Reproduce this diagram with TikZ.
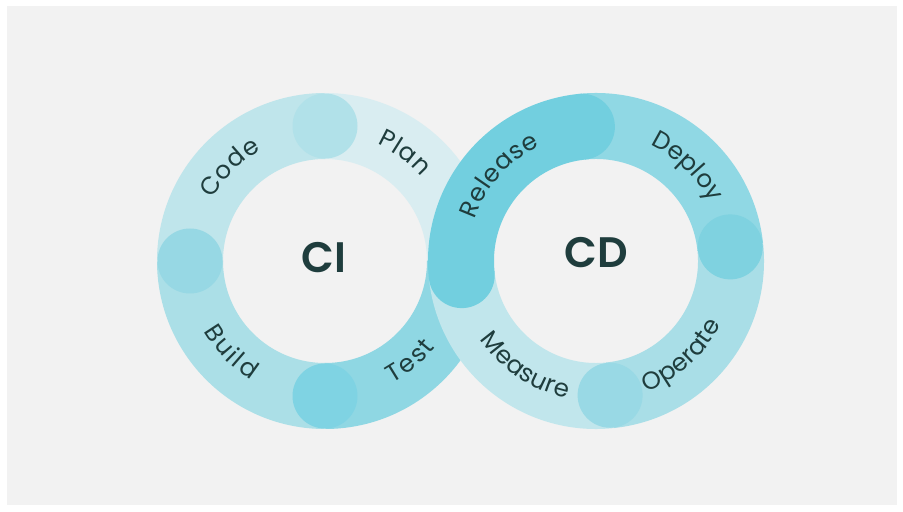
\documentclass[tikz,border=0pt]{standalone}
\usepackage{fontspec}
\setmainfont{Poppins}[BoldFont={Poppins SemiBold}]
\usetikzlibrary{decorations.text}

\definecolor{bgcol}{HTML}{F2F2F2}
\definecolor{txtcol}{HTML}{1F3D3D}
\definecolor{plancol}{HTML}{D9EDF1}
\definecolor{codecol}{HTML}{BFE5EB}
\definecolor{buildcol}{HTML}{ABDFE7}
\definecolor{testcol}{HTML}{8FD7E3}
\definecolor{beadtop}{HTML}{B1E1E9}
\definecolor{beadleft}{HTML}{97D8E4}
\definecolor{beadbottom}{HTML}{7FD3E3}
\definecolor{releasecol}{HTML}{72CFDF}
\definecolor{deploycol}{HTML}{90D8E4}
\definecolor{operatecol}{HTML}{A9DEE7}
\definecolor{measurecol}{HTML}{C1E6EC}
\definecolor{beadright}{HTML}{7FD2E0}
\definecolor{beadlow}{HTML}{99D9E5}

\newcommand{\labelfont}{\fontsize{18.5}{21}\selectfont}

\tikzset{
  seg/.style={line width=49.5pt},
  title/.style={font=\bfseries\fontsize{32}{36}\selectfont, text=txtcol}
}

% text along an arc: centre, radius, start angle, end angle, text
\newcommand{\arclabel}[5]{%
  \path[decorate, decoration={text along path, text align={fit to path},
      text color=txtcol, text={|\labelfont|#5}}]
    (#1) ++(#3:#2) arc[start angle=#3, end angle=#4, radius=#2];}

\begin{document}
\begin{tikzpicture}[x=0.75pt,y=0.75pt]
  % canvas
  \useasboundingbox (0,0) rectangle (903,511);
  \fill[bgcol] (7,6) rectangle (897,505);

  \coordinate (cic) at (325,250);
  \coordinate (cdc) at (596,250);

  % CI ring
  \draw[seg, draw=plancol] (cic) ++(0:135) arc[start angle=0, end angle=90, radius=135];
  \draw[seg, draw=codecol] (cic) ++(90:135) arc[start angle=90, end angle=180, radius=135];
  \draw[seg, draw=buildcol] (cic) ++(180:135) arc[start angle=180, end angle=270, radius=135];
  \draw[seg, draw=testcol] (cic) ++(270:135) arc[start angle=270, end angle=360, radius=135];
  \fill[beadtop] (cic) ++(90:135) circle[radius=32.5];
  \fill[beadleft] (cic) ++(180:135) circle[radius=32.5];
  \fill[beadbottom] (cic) ++(270:135) circle[radius=32.5];

  % CD ring
  \draw[seg, draw=measurecol] (cdc) ++(186:135) arc[start angle=186, end angle=276, radius=135];
  \draw[seg, draw=operatecol] (cdc) ++(276:135) arc[start angle=276, end angle=366, radius=135];
  \draw[seg, draw=deploycol] (cdc) ++(6:135) arc[start angle=6, end angle=96, radius=135];
  \fill[beadright] (cdc) ++(6:135) circle[radius=32.5];
  \fill[beadlow] (cdc) ++(276:135) circle[radius=32.5];
  \draw[seg, draw=releasecol, line cap=round] (cdc) ++(96:135) arc[start angle=96, end angle=186, radius=135];

  % titles
  \node[title] (ci) at (324,253) {CI};
  \node[title] (cd) at (596,258) {CD};

  % stage labels
  \arclabel{cic}{128}{151}{120}{Code}
  \arclabel{cic}{128}{66}{41}{Plan}
  \arclabel{cic}{140}{210}{238}{Build}
  \arclabel{cic}{140}{299}{322}{Test}
  \arclabel{cdc}{128}{161}{116}{Release}
  \arclabel{cdc}{128}{65}{29}{Deploy}
  \arclabel{cdc}{140}{291}{333}{Operate}
  \arclabel{cdc}{140}{214}{258}{Measure}
\end{tikzpicture}
\end{document}
